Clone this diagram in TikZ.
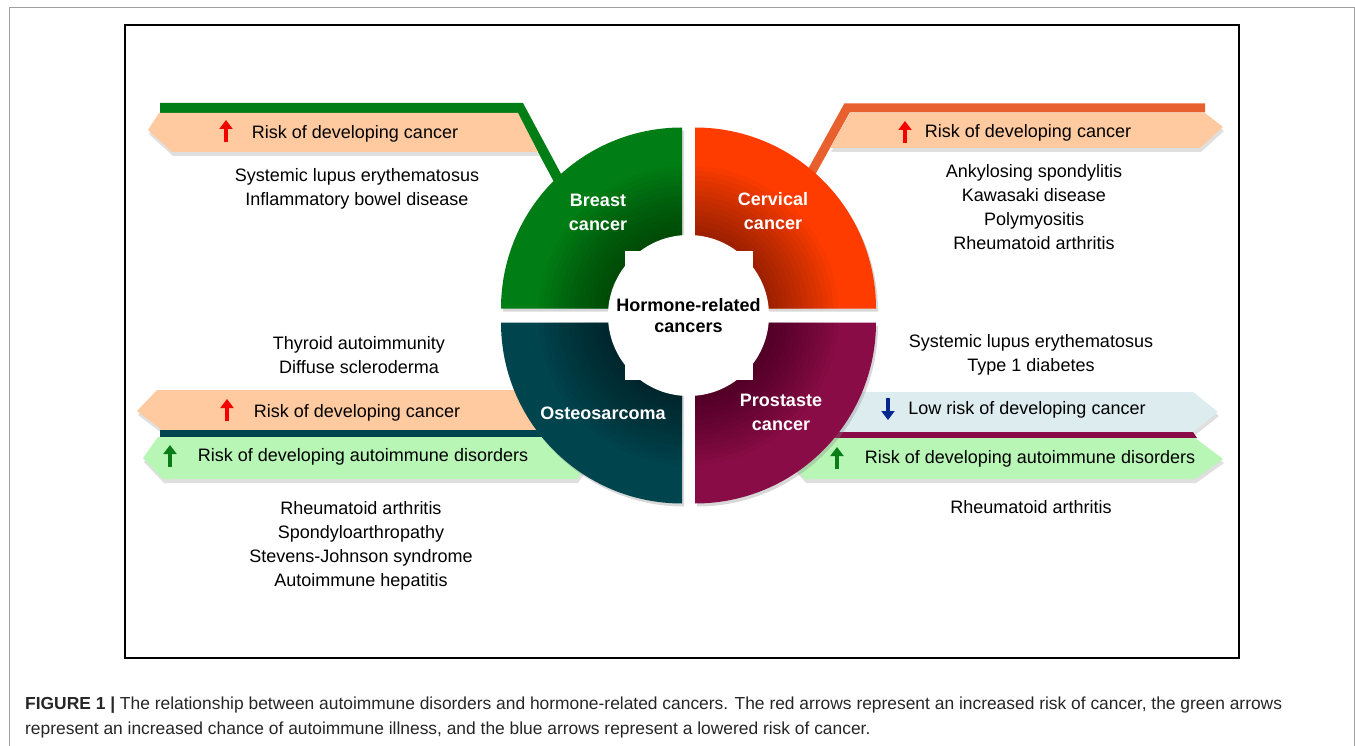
\documentclass[tikz,border=0pt]{standalone}
\usepackage{fontspec}
\setmainfont{Liberation Sans}
\usetikzlibrary{arrows.meta, shadows}

\definecolor{breastgreen}{RGB}{0,125,20}
\definecolor{cervicalred}{RGB}{255,60,0}
\definecolor{osteoteal}{RGB}{0,68,78}
\definecolor{prostatered}{RGB}{138,12,70}
\definecolor{cervicallink}{RGB}{232,96,46}
\definecolor{peach}{RGB}{255,202,160}
\definecolor{mint}{RGB}{184,246,182}
\definecolor{paleblue}{RGB}{221,236,239}
\definecolor{riskred}{RGB}{245,0,0}
\definecolor{riskgreen}{RGB}{10,125,25}
\definecolor{riskblue}{RGB}{0,40,140}

\tikzset{
  banner/.style={drop shadow={opacity=0.25, shadow xshift=1pt, shadow yshift=-4pt}},
  quadrant/.style={drop shadow={opacity=0.3, shadow xshift=2pt, shadow yshift=-3pt}},
  risk/.style={inner sep=0pt},
  disease/.style={inner sep=0pt, align=center},
  cancer/.style={inner sep=0pt, align=center, text=white, font=\bfseries\fontsize{18}{24}\selectfont},
  arrowicon/.style={line width=3.6pt, -{Triangle[width=13pt, length=9pt]}},
}

\begin{document}
\begin{tikzpicture}[x=1pt, y=-1pt, font=\fontsize{18}{24}\selectfont]
  \useasboundingbox (0,0) rectangle (1355,746);
  \fill[white] (0,0) rectangle (1355,746);
  \draw[gray!75, line width=1pt] (9,760) -- (9,8) -- (1354,8) -- (1354,760);
  \draw[black, line width=1.3pt] (125,25) rectangle (1239,658);

  \coordinate (hubc) at (688.5,315.5);

  \draw[breastgreen, line width=10pt, line join=miter] (160,108) -- (520,108) -- (564,190);
  \draw[cervicallink, line width=9pt, line join=miter] (1205,108) -- (847,108) -- (806,182);

  \fill[banner, fill=peach] (159,113) -- (518,113) -- (538,152) -- (172,152) -- (148,130) -- cycle;
  \fill[banner, fill=peach] (850,113) -- (1205,113) -- (1223,127) -- (1200,148) -- (830,148) -- cycle;

  \fill[banner, fill=peach] (157,390) -- (560,390) -- (560,430) -- (162,430) -- (137,411) -- cycle;
  \fill[osteoteal] (160,430) rectangle (560,437);
  \fill[banner, fill=mint] (158,437) -- (556,437) -- (588,463) -- (577,479) -- (163,479) -- (143,458) -- cycle;

  \fill[banner, fill=paleblue] (800,392) -- (1193,392) -- (1218,412) -- (1193,432) -- (800,432) -- cycle;
  \fill[prostatered] (800,432) -- (1193,432) -- (1197,438) -- (800,438) -- cycle;
  \fill[banner, fill=mint] (815,438) -- (1195,438) -- (1223,459) -- (1195,479) -- (805,479) -- (790,462) -- cycle;

  \foreach \qcol/\sx/\sy/\a in {breastgreen/-1/-1/180, cervicalred/1/-1/270, prostatered/1/1/0, osteoteal/-1/1/90} {
    \fill[quadrant, \qcol] (hubc) ++(6.5*\sx,7*\sy) -- ++(\a:181) arc[start angle=\a, delta angle=90, radius=181] -- cycle;
    \begin{scope}
      \clip (hubc) ++(6.5*\sx,7*\sy) -- ++(\a:181) arc[start angle=\a, delta angle=90, radius=181] -- cycle;
      \foreach \r in {150,145,...,85}
        \fill[black, opacity=0.03] (hubc) circle[radius=\r];
    \end{scope}
  }

  \node[fill=white, minimum size=128pt, inner sep=0pt] (hubsquare) at (hubc) {};
  \node[circle, fill=white, minimum size=161pt, inner sep=0pt] (hub) at (hubc) {};
  \node[disease, font=\bfseries\fontsize{18}{21}\selectfont] (hubtext) at (hubc) {Hormone-related\\cancers};

  \node[cancer] (breast) at (598,212) {Breast\\cancer};
  \node[cancer] (cervical) at (773,211) {Cervical\\cancer};
  \node[cancer] (osteo) at (603,413) {Osteosarcoma};
  \node[cancer] (prostate) at (781,412) {Prostaste\\cancer};

  \node[risk] (breastrisk) at (355,134) {Risk of developing cancer};
  \draw[arrowicon, riskred] (226,142) -- (226,120);
  \node[disease] (breastlist) at (357,189) {Systemic lupus erythematosus\\Inflammatory bowel disease};

  \node[risk] (cervicalrisk) at (1028,133) {Risk of developing cancer};
  \draw[arrowicon, riskred] (905,143) -- (905,121);
  \node[disease] (cervicallist) at (1034,207) {Ankylosing spondylitis\\Kawasaki disease\\Polymyositis\\Rheumatoid arthritis};

  \node[disease] (osteoupper) at (359,355) {Thyroid autoimmunity\\Diffuse scleroderma};
  \node[risk] (osteorisk) at (357,413) {Risk of developing cancer};
  \draw[arrowicon, riskred] (227,421) -- (227,399);
  \node[risk] (osteoauto) at (363,457) {Risk of developing autoimmune disorders};
  \draw[arrowicon, riskgreen] (170,467) -- (170,445);
  \node[disease] (osteolower) at (361,545.5) {Rheumatoid arthritis\\Spondyloarthropathy\\Stevens-Johnson syndrome\\Autoimmune hepatitis};

  \node[disease] (prostateupper) at (1031,355) {Systemic lupus erythematosus\\Type 1 diabetes};
  \node[risk] (prostatelow) at (1027,410) {Low risk of developing cancer};
  \draw[arrowicon, riskblue] (888,398) -- (888,420);
  \node[risk] (prostateauto) at (1030,459) {Risk of developing autoimmune disorders};
  \draw[arrowicon, riskgreen] (837,469) -- (837,447);
  \node[disease] (prostatelower) at (1031,507) {Rheumatoid arthritis};

  \node[inner sep=0pt, anchor=west, align=left, text=black!85, font=\fontsize{17.4}{25}\selectfont] (caption) at (25,717.5)
    {\textbf{FIGURE 1 |} The relationship between autoimmune disorders and hormone-related cancers. The red arrows represent an increased risk of cancer, the green arrows\\
     represent an increased chance of autoimmune illness, and the blue arrows represent a lowered risk of cancer.};
\end{tikzpicture}
\end{document}
